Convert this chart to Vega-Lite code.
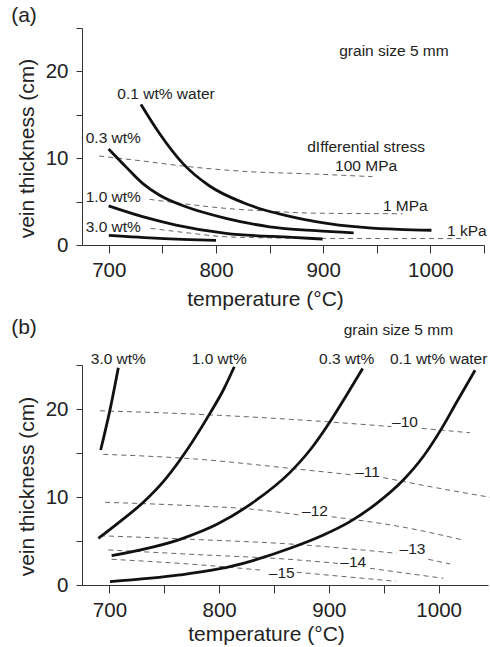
{
  "$schema": "https://vega.github.io/schema/vega-lite/v6.json",
  "background": "white",
  "padding": {"left": 11, "top": 5, "right": 0, "bottom": 0},
  "spacing": 6,
  "config": {
    "font": "Liberation Sans",
    "view": {"stroke": null},
    "axis": {"grid": false, "domainColor": "#333", "tickColor": "#333", "labelColor": "#222", "titleColor": "#222", "labelFontSize": 20.5, "titleFontSize": 21, "titleFontWeight": "normal", "labelFont": "Liberation Sans", "titleFont": "Liberation Sans", "labelFlush": false, "labelOverlap": false},
    "title": {"fontSize": 21, "fontWeight": "normal", "anchor": "start", "color": "#222", "frame": "bounds", "font": "Liberation Sans"}
  },
  "datasets": {
    "curvesA": [
      {"c": "0.1", "T": 730, "v": 16.2}, {"c": "0.1", "T": 747, "v": 12.9}, {"c": "0.1", "T": 769, "v": 9.4}, {"c": "0.1", "T": 794, "v": 6.8}, {"c": "0.1", "T": 825, "v": 4.9}, {"c": "0.1", "T": 846, "v": 4.0}, {"c": "0.1", "T": 871, "v": 3.25}, {"c": "0.1", "T": 893, "v": 2.7}, {"c": "0.1", "T": 940, "v": 2.0}, {"c": "0.1", "T": 970, "v": 1.8}, {"c": "0.1", "T": 1001, "v": 1.7},
      {"c": "0.3", "T": 699.8, "v": 11.06}, {"c": "0.3", "T": 716, "v": 9.0}, {"c": "0.3", "T": 731.5, "v": 7.1}, {"c": "0.3", "T": 747, "v": 5.76}, {"c": "0.3", "T": 772, "v": 4.4}, {"c": "0.3", "T": 809.3, "v": 3.07}, {"c": "0.3", "T": 850, "v": 2.1}, {"c": "0.3", "T": 893, "v": 1.65}, {"c": "0.3", "T": 928.4, "v": 1.4},
      {"c": "1.0", "T": 699.8, "v": 4.5}, {"c": "1.0", "T": 731.5, "v": 3.26}, {"c": "1.0", "T": 762.7, "v": 2.3}, {"c": "1.0", "T": 809.3, "v": 1.34}, {"c": "1.0", "T": 871.5, "v": 0.88}, {"c": "1.0", "T": 899.4, "v": 0.69},
      {"c": "3.0", "T": 700, "v": 1.12}, {"c": "3.0", "T": 747, "v": 0.77}, {"c": "3.0", "T": 800, "v": 0.54}
    ],
    "dashA": [
      {"s": "100MPa", "T": 691, "v": 10.25}, {"s": "100MPa", "T": 730, "v": 9.7}, {"s": "100MPa", "T": 769, "v": 9.1}, {"s": "100MPa", "T": 831, "v": 8.45}, {"s": "100MPa", "T": 887, "v": 8.2}, {"s": "100MPa", "T": 946, "v": 7.87},
      {"s": "1MPa", "T": 738, "v": 5.26}, {"s": "1MPa", "T": 770, "v": 4.75}, {"s": "1MPa", "T": 809, "v": 4.22}, {"s": "1MPa", "T": 850, "v": 3.9}, {"s": "1MPa", "T": 887, "v": 3.68}, {"s": "1MPa", "T": 974, "v": 3.6},
      {"s": "1kPa", "T": 739, "v": 1.92}, {"s": "1kPa", "T": 770, "v": 1.45}, {"s": "1kPa", "T": 809, "v": 0.95}, {"s": "1kPa", "T": 850, "v": 0.82}, {"s": "1kPa", "T": 900, "v": 0.76}, {"s": "1kPa", "T": 1030, "v": 0.74}
    ],
    "labelsA": [
      {"label": "grain size 5 mm", "T": 966, "v": 22.3},
      {"label": "0.1 wt% water", "T": 753.4, "v": 17.4},
      {"label": "0.3 wt%", "T": 704.2, "v": 12.3},
      {"label": "dIfferential stress", "T": 940, "v": 11.33},
      {"label": "100 MPa", "T": 940, "v": 9.14},
      {"label": "1.0 wt%", "T": 704.2, "v": 5.57},
      {"label": "1 MPa", "T": 976.6, "v": 4.53},
      {"label": "3.0 wt%", "T": 704.2, "v": 2.04},
      {"label": "1 kPa", "T": 1034, "v": 1.65}
    ],
    "curvesB": [
      {"c": "3.0", "T": 692, "v": 15.34}, {"c": "3.0", "T": 700.5, "v": 19.9}, {"c": "3.0", "T": 708.1, "v": 24.7},
      {"c": "1.0", "T": 689.9, "v": 5.3}, {"c": "1.0", "T": 709.6, "v": 7.2}, {"c": "1.0", "T": 730.9, "v": 9.4}, {"c": "1.0", "T": 749.1, "v": 11.74}, {"c": "1.0", "T": 764.3, "v": 14.2}, {"c": "1.0", "T": 791.6, "v": 19.5}, {"c": "1.0", "T": 803.8, "v": 22.16}, {"c": "1.0", "T": 813.8, "v": 24.8},
      {"c": "0.3", "T": 702, "v": 3.33}, {"c": "0.3", "T": 767, "v": 5.3}, {"c": "0.3", "T": 798, "v": 6.9}, {"c": "0.3", "T": 830, "v": 9.3}, {"c": "0.3", "T": 864.6, "v": 12.8}, {"c": "0.3", "T": 882.8, "v": 15.34}, {"c": "0.3", "T": 901, "v": 18.56}, {"c": "0.3", "T": 916.2, "v": 21.6}, {"c": "0.3", "T": 930.8, "v": 24.6},
      {"c": "0.1", "T": 700.5, "v": 0.38}, {"c": "0.1", "T": 764.3, "v": 1.14}, {"c": "0.1", "T": 809.9, "v": 2.08}, {"c": "0.1", "T": 864.6, "v": 4.17}, {"c": "0.1", "T": 895, "v": 5.68}, {"c": "0.1", "T": 919.2, "v": 7.2}, {"c": "0.1", "T": 943.6, "v": 9.28}, {"c": "0.1", "T": 967.8, "v": 11.93}, {"c": "0.1", "T": 986, "v": 14.6}, {"c": "0.1", "T": 1002.8, "v": 17.8}, {"c": "0.1", "T": 1016.5, "v": 20.8}, {"c": "0.1", "T": 1033.2, "v": 24.4}
    ],
    "dashB": [
      {"s": "-10a", "T": 691.4, "v": 19.8}, {"s": "-10a", "T": 780, "v": 19.4}, {"s": "-10a", "T": 864.6, "v": 18.83}, {"s": "-10a", "T": 957, "v": 18.0},
      {"s": "-10b", "T": 984.6, "v": 17.8}, {"s": "-10b", "T": 1028.6, "v": 17.3},
      {"s": "-11a", "T": 694.4, "v": 14.85}, {"s": "-11a", "T": 780, "v": 14.3}, {"s": "-11a", "T": 864.6, "v": 13.26}, {"s": "-11a", "T": 922.2, "v": 12.5},
      {"s": "-11b", "T": 949.6, "v": 12.2}, {"s": "-11b", "T": 1000, "v": 11.0}, {"s": "-11b", "T": 1046.8, "v": 9.97},
      {"s": "-12a", "T": 696, "v": 9.4}, {"s": "-12a", "T": 782.6, "v": 8.97}, {"s": "-12a", "T": 825, "v": 8.67}, {"s": "-12a", "T": 873.7, "v": 7.95},
      {"s": "-12b", "T": 902.6, "v": 7.76}, {"s": "-12b", "T": 971, "v": 6.5}, {"s": "-12b", "T": 1022.5, "v": 5.1},
      {"s": "-13a", "T": 691.4, "v": 5.6}, {"s": "-13a", "T": 782.6, "v": 5.15}, {"s": "-13a", "T": 864.6, "v": 4.66}, {"s": "-13a", "T": 961.8, "v": 3.6},
      {"s": "-13b", "T": 990.6, "v": 2.92}, {"s": "-13b", "T": 1010.4, "v": 2.39},
      {"s": "-14a", "T": 699, "v": 3.98}, {"s": "-14a", "T": 782.6, "v": 3.44}, {"s": "-14a", "T": 860, "v": 2.95}, {"s": "-14a", "T": 909, "v": 2.45},
      {"s": "-14b", "T": 937.5, "v": 1.9}, {"s": "-14b", "T": 1004.3, "v": 0.76},
      {"s": "-15a", "T": 702, "v": 2.92}, {"s": "-15a", "T": 782.6, "v": 2.29}, {"s": "-15a", "T": 837.2, "v": 1.7},
      {"s": "-15b", "T": 870.7, "v": 1.45}, {"s": "-15b", "T": 961, "v": 0.42}
    ],
    "labelsB": [
      {"label": "grain size 5 mm", "T": 963.3, "v": 29.0},
      {"label": "3.0 wt%", "T": 708.1, "v": 25.65},
      {"label": "1.0 wt%", "T": 800.1, "v": 25.65},
      {"label": "0.3 wt%", "T": 916.2, "v": 25.65},
      {"label": "0.1 wt% water", "T": 1000.1, "v": 25.65},
      {"label": "–10", "T": 969.4, "v": 18.56},
      {"label": "–11", "T": 935.2, "v": 12.88},
      {"label": "–12", "T": 887.3, "v": 8.44},
      {"label": "–13", "T": 976.2, "v": 4.06},
      {"label": "–14", "T": 922.2, "v": 2.65},
      {"label": "–15", "T": 857, "v": 1.4}
    ]
  },
  "vconcat": [
    {
      "width": 402,
      "height": 217,
      "title": {"text": "(a)", "dx": -5, "offset": -8},
      "layer": [
        {
          "data": {"name": "dashA"},
          "mark": {"type": "line", "interpolate": "monotone", "stroke": "#666", "strokeWidth": 1, "strokeDash": [5, 4]},
          "encoding": {
            "x": {"field": "T", "type": "quantitative", "scale": {"domain": [675, 1050], "nice": false, "zero": false},
              "axis": {"title": "temperature (°C)", "values": [700, 750, 800, 850, 900, 950, 1000, 1050], "format": "d", "labelExpr": "datum.value % 100 === 0 ? datum.label : ''", "tickSize": 8, "labelPadding": 7, "titleX": 183, "titlePadding": 8}},
            "y": {"field": "v", "type": "quantitative", "scale": {"domain": [0, 25], "nice": false},
              "axis": {"title": "vein thickness (cm)", "values": [0, 5, 10, 15, 20, 25], "labelExpr": "datum.value % 10 === 0 ? datum.label : ''", "tickSize": 6, "labelPadding": 8, "titleY": 120, "titlePadding": 8}},
            "detail": {"field": "s"}
          }
        },
        {
          "data": {"name": "curvesA"},
          "mark": {"type": "line", "interpolate": "monotone", "stroke": "#111", "strokeWidth": 2.8},
          "encoding": {
            "x": {"field": "T", "type": "quantitative"},
            "y": {"field": "v", "type": "quantitative"},
            "detail": {"field": "c"}
          }
        },
        {
          "data": {"name": "labelsA"},
          "mark": {"type": "text", "fontSize": 15.5, "color": "#222", "align": "center", "baseline": "middle"},
          "encoding": {
            "x": {"field": "T", "type": "quantitative"},
            "y": {"field": "v", "type": "quantitative"},
            "text": {"field": "label"}
          }
        }
      ]
    },
    {
      "width": 406,
      "height": 220,
      "title": {"text": "(b)", "dx": -5, "offset": -15},
      "layer": [
        {
          "data": {"name": "dashB"},
          "mark": {"type": "line", "interpolate": "monotone", "stroke": "#666", "strokeWidth": 1, "strokeDash": [5, 4]},
          "encoding": {
            "x": {"field": "T", "type": "quantitative", "scale": {"domain": [675, 1045], "nice": false, "zero": false},
              "axis": {"title": "temperature (°C)", "values": [700, 750, 800, 850, 900, 950, 1000], "format": "d", "labelExpr": "datum.value % 100 === 0 ? datum.label : ''", "tickSize": 8, "labelPadding": 7, "titleX": 184, "titlePadding": 3}},
            "y": {"field": "v", "type": "quantitative", "scale": {"domain": [0, 25], "nice": false},
              "axis": {"title": "vein thickness (cm)", "values": [0, 5, 10, 15, 20, 25], "labelExpr": "datum.value % 10 === 0 ? datum.label : ''", "tickSize": 6, "labelPadding": 8, "titleY": 121, "titlePadding": 8}},
            "detail": {"field": "s"}
          }
        },
        {
          "data": {"name": "curvesB"},
          "mark": {"type": "line", "interpolate": "monotone", "stroke": "#111", "strokeWidth": 2.8},
          "encoding": {
            "x": {"field": "T", "type": "quantitative"},
            "y": {"field": "v", "type": "quantitative"},
            "detail": {"field": "c"}
          }
        },
        {
          "data": {"name": "labelsB"},
          "mark": {"type": "text", "fontSize": 15.5, "color": "#222", "align": "center", "baseline": "middle"},
          "encoding": {
            "x": {"field": "T", "type": "quantitative"},
            "y": {"field": "v", "type": "quantitative"},
            "text": {"field": "label"}
          }
        }
      ]
    }
  ]
}
